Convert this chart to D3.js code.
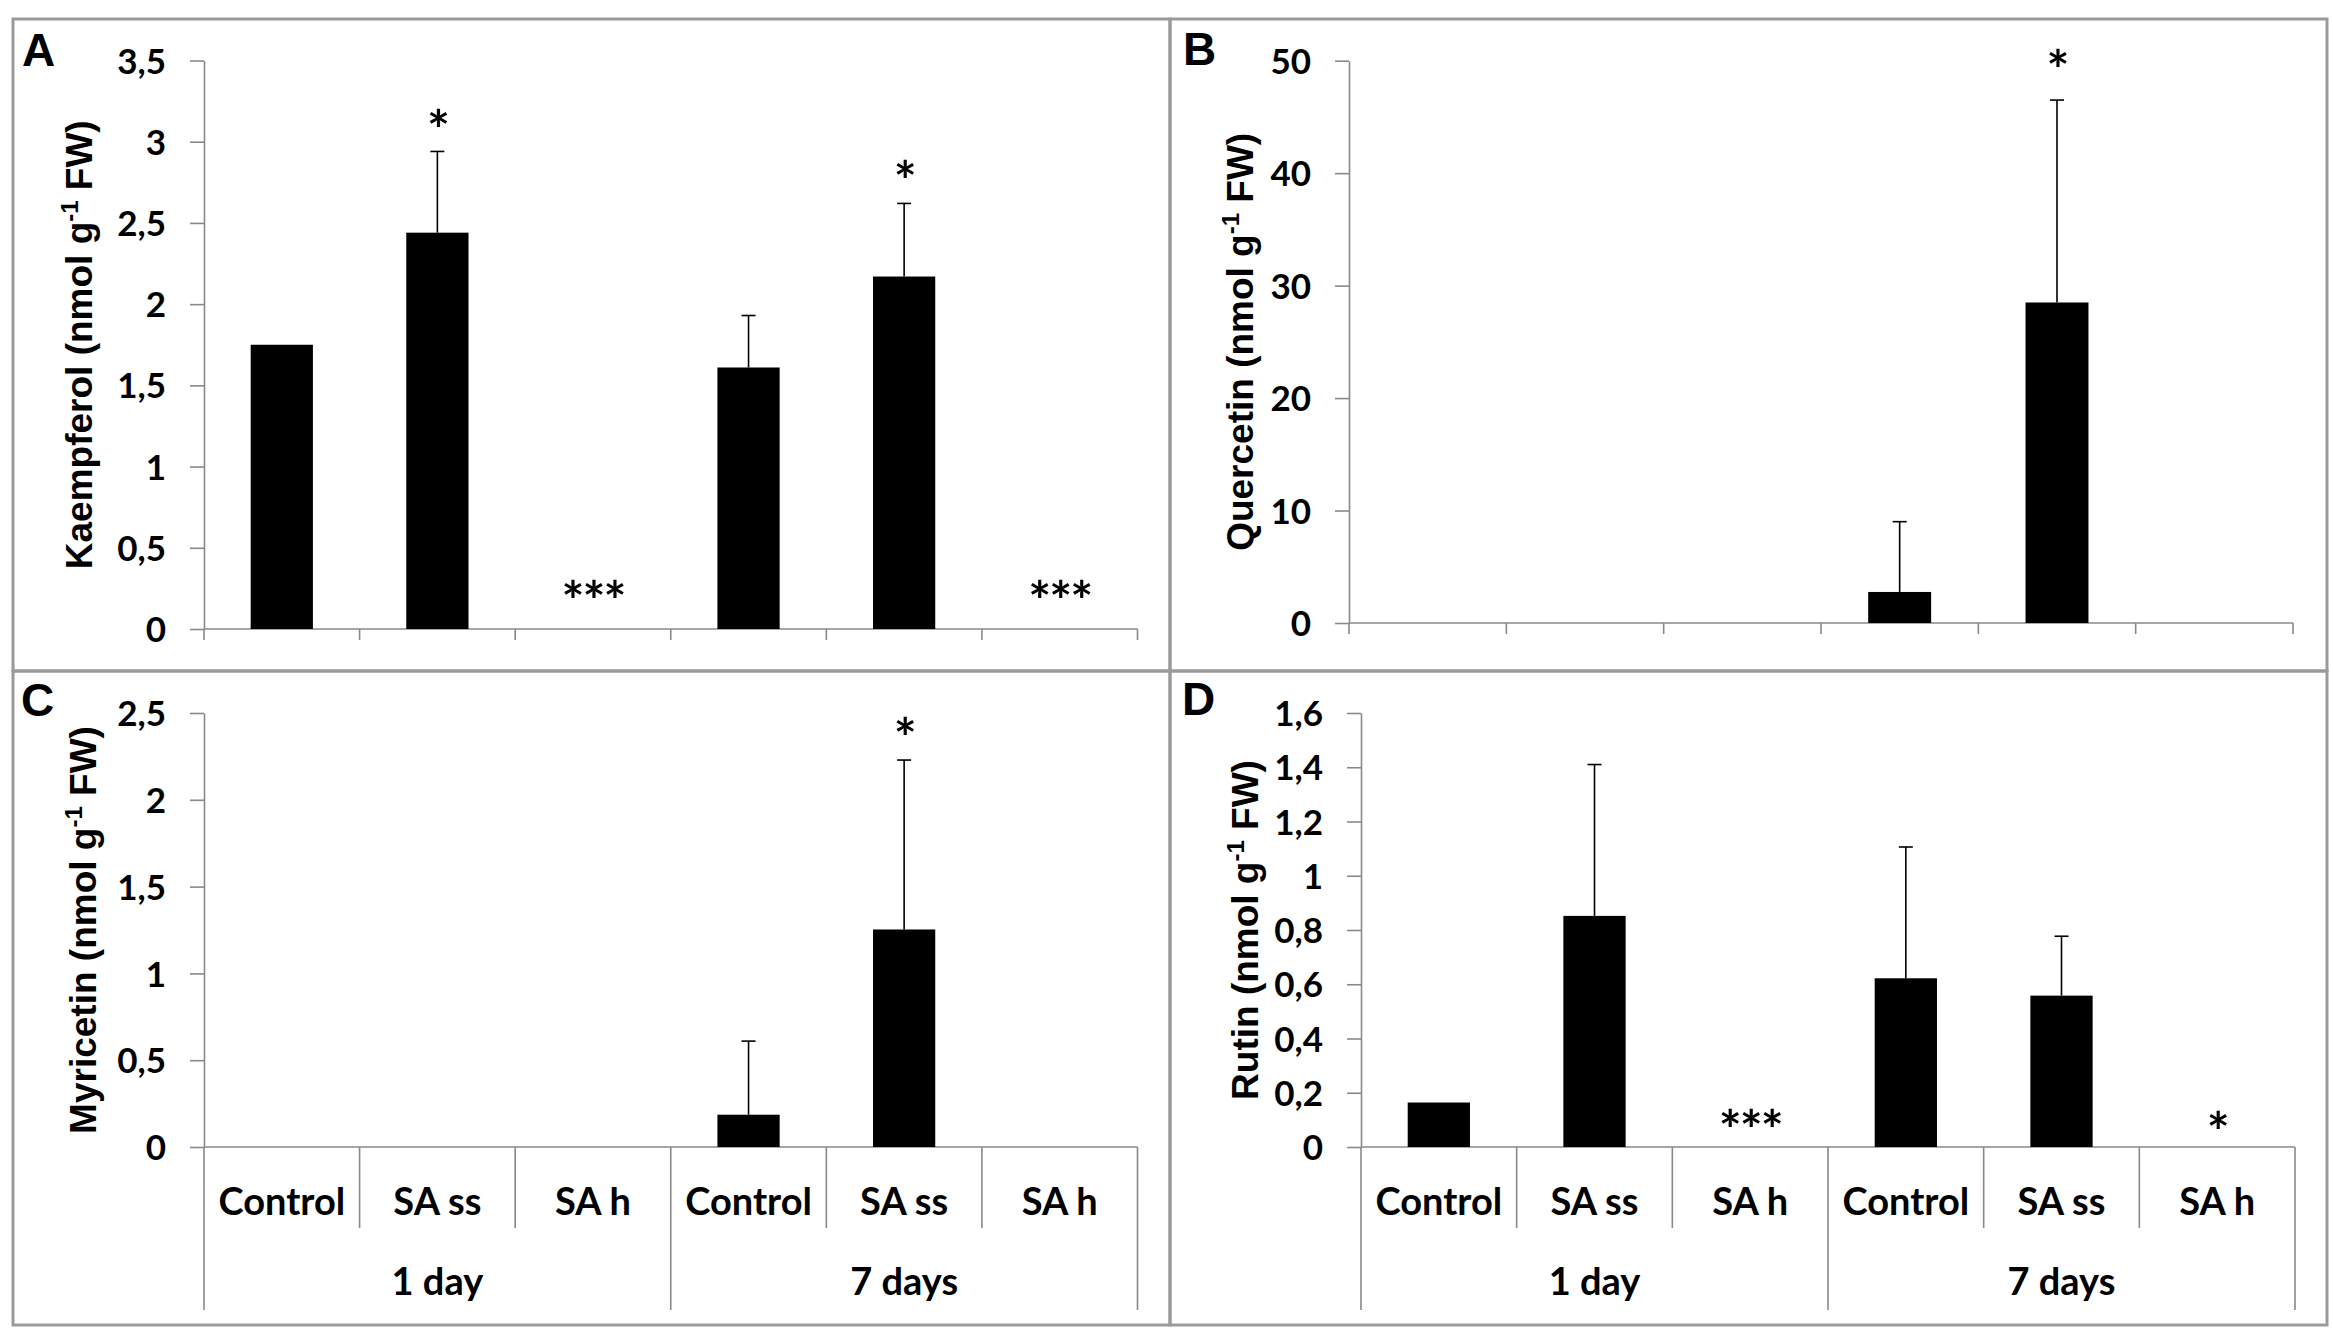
<!DOCTYPE html>
<html>
<head>
<meta charset="utf-8">
<script src="https://cdn.jsdelivr.net/npm/d3@7"></script>
<style>
  html, body { margin: 0; padding: 0; background: #fff; }
  svg { display: block; }
</style>
</head>
<body>
<svg id="chart" width="2333" height="1339"></svg>
<script>
// ---------------- DATA ----------------
const categories = ["Control", "SA ss", "SA h", "Control", "SA ss", "SA h"];
const groups = ["1 day", "7 days"];

const kaempferolMean = [1.75, 2.44, 0, 1.61, 2.17, 0];
const kaempferolErr  = [0, 0.50, 0, 0.32, 0.45, 0];
const kaempferolSig  = ["", "*", "***", "", "*", "***"];
const kaempferolSigY = [null, 3.14, 0.24, null, 2.83, 0.24];
const kaempferolTicks = [0, 0.5, 1, 1.5, 2, 2.5, 3, 3.5];
const kaempferolTickLabels = ["0", "0,5", "1", "1,5", "2", "2,5", "3", "3,5"];

const quercetinMean = [0, 0, 0, 2.76, 28.5, 0];
const quercetinErr  = [0, 0, 0, 6.25, 18.0, 0];
const quercetinSig  = ["", "", "", "", "*", ""];
const quercetinSigY = [null, null, null, null, 50.2, null];
const quercetinTicks = [0, 10, 20, 30, 40, 50];
const quercetinTickLabels = ["0", "10", "20", "30", "40", "50"];

const myricetinMean = [0, 0, 0, 0.186, 1.253, 0];
const myricetinErr  = [0, 0, 0, 0.424, 0.976, 0];
const myricetinSig  = ["", "", "", "", "*", ""];
const myricetinSigY = [null, null, null, null, 2.42, null];
const myricetinTicks = [0, 0.5, 1, 1.5, 2, 2.5];
const myricetinTickLabels = ["0", "0,5", "1", "1,5", "2", "2,5"];

const rutinMean = [0.164, 0.852, 0, 0.622, 0.558, 0];
const rutinErr  = [0, 0.558, 0, 0.484, 0.219, 0];
const rutinSig  = ["", "", "***", "", "", "*"];
const rutinSigY = [null, null, 0.103, null, null, 0.096];
const rutinTicks = [0, 0.2, 0.4, 0.6, 0.8, 1, 1.2, 1.4, 1.6];
const rutinTickLabels = ["0", "0,2", "0,4", "0,6", "0,8", "1", "1,2", "1,4", "1,6"];

// ---------------- LAYOUT ----------------
const panels = [
  { letter: "A", name: "Kaempferol", mean: kaempferolMean, err: kaempferolErr, sig: kaempferolSig, sigY: kaempferolSigY,
    ticks: kaempferolTicks, tickLabels: kaempferolTickLabels,
    x0: 204, x1: 1137.5, yTop: 60.5, yBot: 629, lx: 22, ly: 66, tx: 92,
    frame: [13, 19, 1170, 671], catLabels: false },
  { letter: "B", name: "Quercetin", mean: quercetinMean, err: quercetinErr, sig: quercetinSig, sigY: quercetinSigY,
    ticks: quercetinTicks, tickLabels: quercetinTickLabels,
    x0: 1349, x1: 2293, yTop: 60.7, yBot: 623, lx: 1183, ly: 65, tx: 1253,
    frame: [1170, 19, 2327, 671], catLabels: false },
  { letter: "C", name: "Myricetin", mean: myricetinMean, err: myricetinErr, sig: myricetinSig, sigY: myricetinSigY,
    ticks: myricetinTicks, tickLabels: myricetinTickLabels,
    x0: 204, x1: 1137.5, yTop: 713, yBot: 1147, lx: 21, ly: 716, tx: 96,
    frame: [13, 671, 1170, 1325], catLabels: true },
  { letter: "D", name: "Rutin", mean: rutinMean, err: rutinErr, sig: rutinSig, sigY: rutinSigY,
    ticks: rutinTicks, tickLabels: rutinTickLabels,
    x0: 1361, x1: 2295, yTop: 713, yBot: 1147, lx: 1182, ly: 715, tx: 1258,
    frame: [1170, 671, 2327, 1325], catLabels: true }
];

const AXIS = "#898989";
const FRAME = "#9a9a9a";
const NUMFONT = "Lato, 'Open Sans', sans-serif";
const TITLEFONT = "'Liberation Sans', Arial, sans-serif";
const SIGSIZE = 54;

const svg = d3.select("#chart");
svg.append("rect").attr("width", 2333).attr("height", 1339).attr("fill", "#fff");

panels.forEach(p => {
  const g = svg.append("g");
  const [fx0, fy0, fx1, fy1] = p.frame;

  const x = d3.scaleBand().domain(d3.range(categories.length))
    .range([p.x0, p.x1]).paddingInner(0.6).paddingOuter(0.3);
  const step = (p.x1 - p.x0) / categories.length;
  const yMax = p.ticks[p.ticks.length - 1];
  const y = d3.scaleLinear().domain([0, yMax]).range([p.yBot, p.yTop]);

  // Y axis
  const yAxis = d3.axisLeft(y).tickValues(p.ticks)
    .tickFormat((d, i) => p.tickLabels[i]).tickSize(14).tickSizeOuter(0).tickPadding(24);
  const ya = g.append("g").attr("transform", `translate(${p.x0},0)`).call(yAxis);
  ya.select(".domain").attr("stroke", AXIS).attr("stroke-width", 1.6);
  ya.selectAll(".tick line").attr("stroke", AXIS).attr("stroke-width", 1.6);
  ya.selectAll(".tick text")
    .attr("font-family", NUMFONT).attr("font-weight", 700).attr("font-size", 35)
    .attr("fill", "#000").attr("dy", "0.36em");

  // X axis line
  g.append("line").attr("x1", p.x0).attr("x2", p.x1).attr("y1", p.yBot).attr("y2", p.yBot)
    .attr("stroke", AXIS).attr("stroke-width", 1.6);

  // Category boundaries
  const bounds = d3.range(categories.length + 1).map(i => p.x0 + i * step);
  bounds.forEach((bx, i) => {
    let len;
    if (!p.catLabels) len = 11;
    else len = (i % 3 === 0) ? 163 : 81;
    g.append("line").attr("x1", bx).attr("x2", bx).attr("y1", p.yBot).attr("y2", p.yBot + len)
      .attr("stroke", AXIS).attr("stroke-width", 1.6);
  });

  if (p.catLabels) {
    g.selectAll(".cat").data(categories).join("text")
      .attr("x", (d, i) => x(i) + x.bandwidth() / 2)
      .attr("y", p.yBot + 68)
      .attr("text-anchor", "middle")
      .attr("font-family", NUMFONT).attr("font-weight", 700).attr("font-size", 38)
      .text(d => d);
    g.selectAll(".grp").data(groups).join("text")
      .attr("x", (d, i) => p.x0 + step * (1.5 + 3 * i))
      .attr("y", p.yBot + 148)
      .attr("text-anchor", "middle")
      .attr("font-family", NUMFONT).attr("font-weight", 700).attr("font-size", 38)
      .text(d => d);
  }

  // Bars
  g.selectAll(".bar").data(p.mean).join("rect")
    .attr("x", (d, i) => x(i))
    .attr("width", x.bandwidth())
    .attr("y", d => y(d))
    .attr("height", d => p.yBot - y(d))
    .attr("fill", "#000");

  // Error bars (positive only)
  p.mean.forEach((m, i) => {
    const e = p.err[i];
    if (!e) return;
    const cx = x(i) + x.bandwidth() / 2;
    g.append("line").attr("x1", cx).attr("x2", cx).attr("y1", y(m)).attr("y2", y(m + e))
      .attr("stroke", "#000").attr("stroke-width", 1.6);
    g.append("line").attr("x1", cx - 7).attr("x2", cx + 7).attr("y1", y(m + e)).attr("y2", y(m + e))
      .attr("stroke", "#000").attr("stroke-width", 1.6);
  });

  // Significance marks
  p.sig.forEach((s, i) => {
    if (!s) return;
    g.append("text")
      .attr("x", x(i) + x.bandwidth() / 2)
      .attr("y", y(p.sigY[i]) + SIGSIZE * 0.56)
      .attr("text-anchor", "middle")
      .attr("letter-spacing", -2)
      .attr("font-family", NUMFONT).attr("font-weight", 700).attr("font-size", SIGSIZE)
      .text(s);
  });

  // Y title
  const t = g.append("text")
    .attr("transform", `translate(${p.tx},${(p.yTop + p.yBot) / 2}) rotate(-90)`)
    .attr("text-anchor", "middle")
    .attr("font-family", TITLEFONT).attr("font-weight", 700).attr("font-size", 37);
  t.append("tspan").text(p.name + " (nmol g");
  t.append("tspan").attr("font-size", 24).attr("dy", -14).text("-1");
  t.append("tspan").attr("dy", 14).text(" FW)");

  // Panel letter
  g.append("text").attr("x", p.lx).attr("y", p.ly)
    .attr("font-family", TITLEFONT).attr("font-weight", 700).attr("font-size", 46)
    .text(p.letter);

  // Frame
  g.append("rect").attr("x", fx0).attr("y", fy0).attr("width", fx1 - fx0).attr("height", fy1 - fy0)
    .attr("fill", "none").attr("stroke", FRAME).attr("stroke-width", 3);
});
</script>
</body>
</html>
